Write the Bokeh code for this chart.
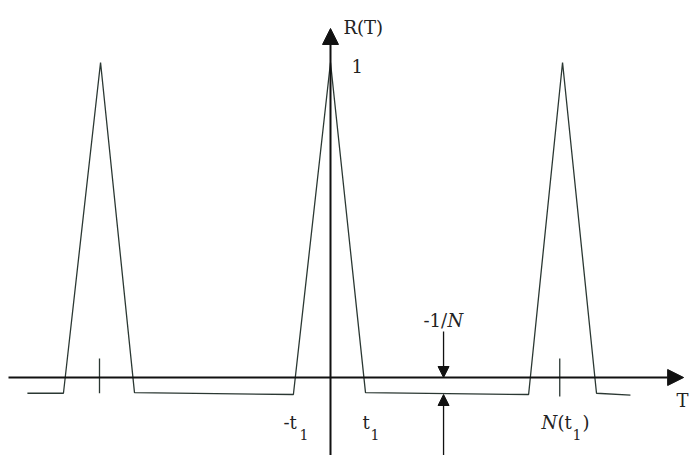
from bokeh.plotting import figure
from bokeh.models import Range1d, Arrow, NormalHead, Label
from bokeh.embed import file_html
from bokeh.resources import INLINE

# ---- data (units: x in multiples of t1, y = R(T)) ----
signal_x = [-8.66, -7.63, -6.57, -5.6, -1.06, 0.0, 1.0, 5.66, 6.63, 7.6, 8.57]
signal_y = [-0.05, -0.05, 1.0, -0.048, -0.054, 1.0, -0.048, -0.054, 1.0, -0.05, -0.056]
tick_x = [-6.6, 6.55]
tick_top = [0.06, 0.06]
tick_bottom = [-0.05, -0.06]
minus_inv_N = -0.054
arrow_x = 3.23

SERIF = "DejaVu Serif"

p = figure(width=689, height=455, output_backend="svg", toolbar_location=None,
           x_range=Range1d(-9.4286, 10.2571), y_range=Range1d(-0.2476, 1.1968),
           min_border=0, min_border_left=0, min_border_right=0,
           min_border_top=0, min_border_bottom=0)
p.xaxis.visible = False
p.yaxis.visible = False
p.grid.visible = False
p.outline_line_color = None
p.background_fill_color = "white"
p.border_fill_color = "white"

# signal
p.line(signal_x, signal_y, line_color="#2b3833", line_width=1.3)

# tick marks at peak centres
p.segment(x0=tick_x, y0=tick_bottom, x1=tick_x, y1=tick_top,
          line_color="#2b3833", line_width=1.3)

# axes with arrowheads
p.add_layout(Arrow(x_start=-9.2, y_start=0, x_end=10.09, y_end=0,
                   line_color="#111111", line_width=2,
                   end=NormalHead(size=16, fill_color="#111111", line_color="#111111", line_width=1)))
p.add_layout(Arrow(x_start=0, y_start=-0.2476, x_end=0, y_end=1.108,
                   line_color="#111111", line_width=2,
                   end=NormalHead(size=16, fill_color="#111111", line_color="#111111", line_width=1)))

# -1/N dimension arrows
p.add_layout(Arrow(x_start=arrow_x, y_start=0.146, x_end=arrow_x, y_end=0.0,
                   line_color="#111111", line_width=1.3,
                   end=NormalHead(size=11, fill_color="#111111", line_color="#111111", line_width=1)))
p.add_layout(Arrow(x_start=arrow_x, y_start=-0.2476, x_end=arrow_x, y_end=minus_inv_N,
                   line_color="#111111", line_width=1.3,
                   end=NormalHead(size=11, fill_color="#111111", line_color="#111111", line_width=1)))

def lab(x, y, t, size=18, style="normal", align="left"):
    p.add_layout(Label(x=x, y=y, text=t, text_font=SERIF, text_font_size=f"{size}px",
                       text_font_style=style, text_color="#222222",
                       text_baseline="alphabetic", text_align=align))

lab(0.371, 1.111, "R(T)", 18)
lab(0.60, 0.990, "1", 18)
lab(10.23, -0.073, "T", 18, align="right")
lab(2.657, 0.181, "-1/", 18)
lab(3.343, 0.181, "N", 18, "italic")
lab(-1.343, -0.1429, "-t", 18)
lab(-0.886, -0.181, "1", 14)
lab(0.914, -0.1429, "t", 18)
lab(1.143, -0.181, "1", 14)
lab(6.029, -0.1429, "N", 18, "italic")
lab(6.486, -0.1429, "(t", 18)
lab(6.914, -0.181, "1", 14)
lab(7.2, -0.1429, ")", 18)

open("out.html", "w").write(file_html(p, INLINE))
